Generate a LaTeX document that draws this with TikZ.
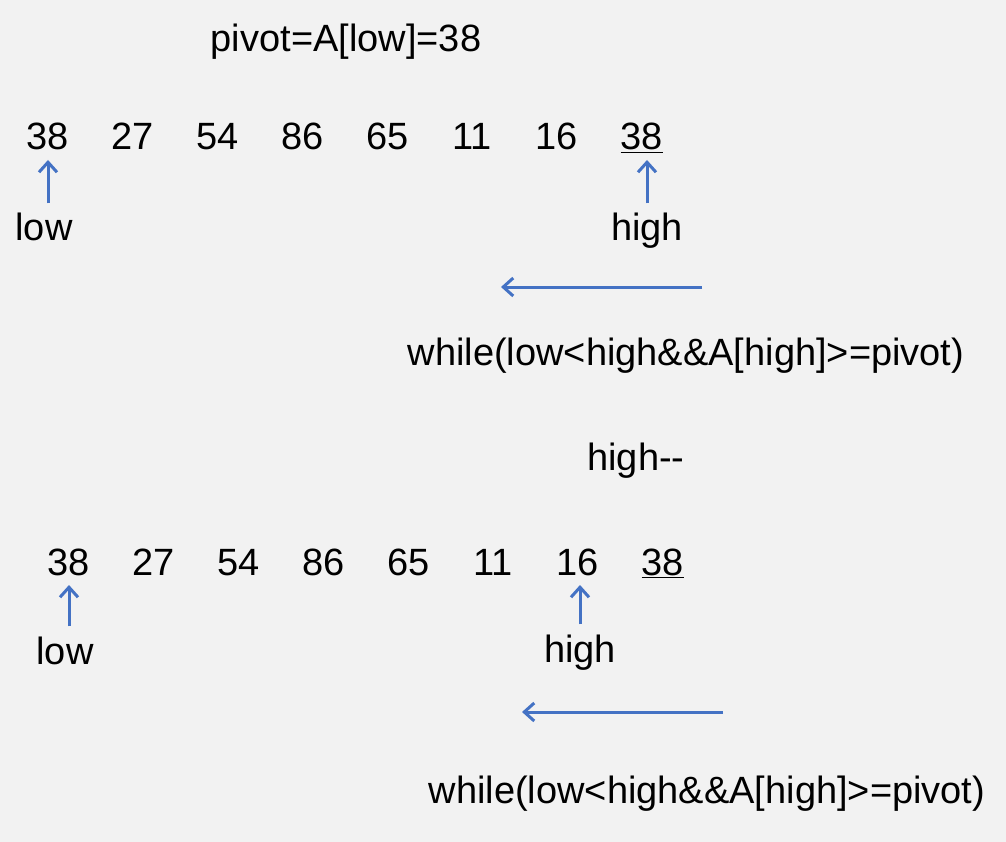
\documentclass[tikz,border=0pt]{standalone}
\usepackage{fontspec}
\setmainfont{Liberation Sans}[Ligatures=TeXOff]
\usepackage{xcolor}
\usetikzlibrary{arrows.meta, positioning}
\definecolor{ptrblue}{HTML}{4472C4}
\definecolor{bggray}{HTML}{F2F2F2}

\begin{document}
\begin{tikzpicture}[
    x=1pt, y=-1pt,
    node distance=0pt and 24.43pt,
    txt/.style={inner sep=0pt, anchor=base, font=\fontsize{38}{46}\selectfont},
    num/.style={txt, minimum width=60pt},
    lbl/.style={txt, outer ysep=10pt},
    ptr/.style={-{Straight Barb[length=10pt, width=18pt]}, line width=3pt, draw=ptrblue}
]
    \fill[bggray] (0,0) rectangle (1006,842);
    \useasboundingbox (0,0) rectangle (1006,842);

    \node[txt] (pivot) at (346,52) {pivot=A[low]=38};

    % first pass
    \node[num] (a1) at (48,150) {38};
    \node[num, base right=of a1] (a2) {27};
    \node[num, base right=of a2] (a3) {54};
    \node[num, base right=of a3] (a4) {86};
    \node[num, base right=of a4] (a5) {65};
    \node[num, base right=of a5] (a6) {11};
    \node[num, base right=of a6] (a7) {16};
    \node[num, base right=of a7] (a8) {\underline{38}};
    \node[lbl] (low1) at (44,241) {low};
    \node[lbl] (high1) at (647,241) {high};

    \draw[ptr, shorten >=10pt] (low1.north -| a1) -- (a1.base);
    \draw[ptr, shorten >=10pt] (high1.north) -- (high1.north |- a8.base);

    \coordinate (scan1s) at (702,287);
    \coordinate (scan1e) at (501,287);
    \draw[ptr] (scan1s) -- (scan1e);

    \node[txt] (cond1) at (686,365) {while(low<high\&\&A[high]>=pivot)};
    \node[txt] (dec) at (636,470) {high--};

    % second pass
    \node[num] (b1) at (69,575) {38};
    \node[num, base right=of b1] (b2) {27};
    \node[num, base right=of b2] (b3) {54};
    \node[num, base right=of b3] (b4) {86};
    \node[num, base right=of b4] (b5) {65};
    \node[num, base right=of b5] (b6) {11};
    \node[num, base right=of b6] (b7) {16};
    \node[num, base right=of b7] (b8) {\underline{38}};
    \node[lbl] (low2) at (65,664) {low};
    \node[lbl] (high2) at (580,662) {high};

    \draw[ptr, shorten >=10pt] (low2.north -| b1) -- (b1.base);
    \draw[ptr, shorten >=10pt] (high2.north) -- (high2.north |- b7.base);

    \coordinate (scan2s) at (723,712);
    \coordinate (scan2e) at (522,712);
    \draw[ptr] (scan2s) -- (scan2e);

    \node[txt] (cond2) at (707,803) {while(low<high\&\&A[high]>=pivot)};
\end{tikzpicture}
\end{document}
